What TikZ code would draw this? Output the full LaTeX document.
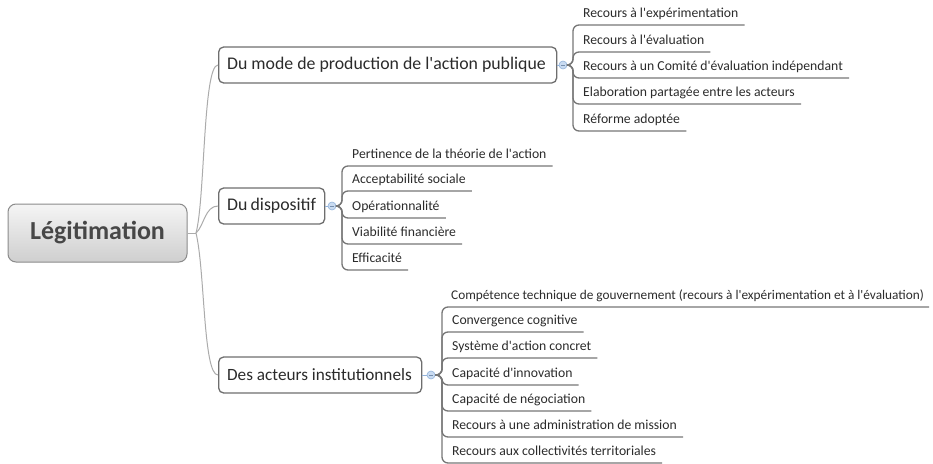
\documentclass[tikz,border=0pt]{standalone}
\usepackage{fontspec}
\setmainfont{Carlito}
\newcommand{\sq}{\textquotesingle}
\definecolor{txt}{HTML}{2B2B2B}
\definecolor{boxline}{HTML}{6E6E6E}
\definecolor{rootline}{HTML}{ABABAB}
\definecolor{leafline}{HTML}{767676}
\definecolor{circfill}{HTML}{C9DBF1}
\definecolor{circdraw}{HTML}{93B3DA}
\tikzset{
  rootbox/.style={draw=boxline!80, line width=1pt, rounded corners=8pt, top color=gray!8, bottom color=gray!38,
    minimum width=179pt, minimum height=58pt, inner sep=0pt, text=black!72,
    font=\fontsize{26}{30}\selectfont\bfseries},
  branchbox/.style={draw=boxline, line width=1.3pt, rounded corners=5pt, fill=white,
    minimum height=36pt, inner xsep=8.5pt, inner ysep=0pt, anchor=west, text=txt,
    execute at begin node={\hbox to \dimexpr#1-17pt\relax\bgroup},
    execute at end node={\hfil\egroup},
    font=\fontsize{17.8}{21}\selectfont},
  leaf/.style={anchor=south west, inner xsep=6pt, inner ysep=4pt, text height=10pt, text depth=3.5pt,
    text=txt, font=\fontsize{13.7}{16}\selectfont},
  circ/.style={circle, draw=circdraw, fill=circfill, line width=0.6pt, minimum size=8pt, inner sep=0pt},
  rline/.style={draw=rootline, line width=1pt},
  lline/.style={draw=leafline, line width=1.3pt, rounded corners=6pt},
  cline/.style={draw=circdraw, line width=0.8pt},
}
\begin{document}
\begin{tikzpicture}[x=1pt,y=-1pt]
\useasboundingbox (0,0) rectangle (933,463);
% root
\node[rootbox] (root) at (97.5,233) {Légitimation};
\coordinate (rj) at (196,233);
% branches
\node[branchbox=338pt] (b1) at (218,65) {Du mode de production de l\sq action publique};
\node[branchbox=106pt] (b2) at (218,206) {Du dispositif};
\node[branchbox=203pt, font=\fontsize{17.2}{21}\selectfont] (b3) at (218,375) {Des acteurs institutionnels};
\draw[rline] (root.east) -- (rj);
\draw[rline] (rj) .. controls (205,200) and (203,65) .. (b1.west);
\draw[rline] (rj) .. controls (204,226) and (205,206) .. (b2.west);
\draw[rline] (rj) .. controls (205,270) and (203,375) .. (b3.west);
% circles
\node[circ] (c1) at (563,65) {};
\node[circ] (c2) at (332,206) {};
\node[circ] (c3) at (431,375) {};
\foreach \c in {c1,c2,c3}{\draw[circdraw!80!black, line width=0.6pt] ([xshift=-2pt]\c.center) -- ([xshift=2pt]\c.center);}
\draw[cline] (b1.east) -- (c1.west);
\draw[cline] (b2.east) -- (c2.west);
\draw[cline] (b3.east) -- (c3.west);
\coordinate (s1) at (573,65);
\coordinate (s2) at (342,206);
\coordinate (s3) at (442,375);
% leaves branch 1
\node[leaf] (l11) at (577,25) {Recours à l\sq expérimentation};
\node[leaf] (l12) at (577,52) {Recours à l\sq évaluation};
\node[leaf] (l13) at (577,78) {Recours à un Comité d\sq évaluation indépendant};
\node[leaf] (l14) at (577,104) {Elaboration partagée entre les acteurs};
\node[leaf] (l15) at (577,131) {Réforme adoptée};
\foreach \n in {l11,l12,l13,l14,l15}{\draw[lline] (c1.east) -- (s1) |- (\n.south east);}
% leaves branch 2
\node[leaf] (l21) at (346,166) {Pertinence de la théorie de l\sq action};
\node[leaf] (l22) at (346,191) {Acceptabilité sociale};
\node[leaf] (l23) at (346,218) {Opérationnalité};
\node[leaf] (l24) at (346,244) {Viabilité financière};
\node[leaf] (l25) at (346,270) {Efficacité};
\foreach \n in {l21,l22,l23,l24,l25}{\draw[lline] (c2.east) -- (s2) |- (\n.south east);}
% leaves branch 3
\node[leaf, font=\fontsize{13.3}{16}\selectfont, inner xsep=5pt] (l31) at (446,307) {Compétence technique de gouvernement (recours à l\sq expérimentation et à l\sq évaluation)};
\node[leaf] (l32) at (446,332) {Convergence cognitive};
\node[leaf] (l33) at (446,358) {Système d\sq action concret};
\node[leaf] (l34) at (446,385) {Capacité d\sq innovation};
\node[leaf] (l35) at (446,411) {Capacité de négociation};
\node[leaf] (l36) at (446,437) {Recours à une administration de mission};
\node[leaf] (l37) at (446,463) {Recours aux collectivités territoriales};
\foreach \n in {l31,l32,l33,l34,l35,l36,l37}{\draw[lline] (c3.east) -- (s3) |- (\n.south east);}
\end{tikzpicture}
\end{document}
